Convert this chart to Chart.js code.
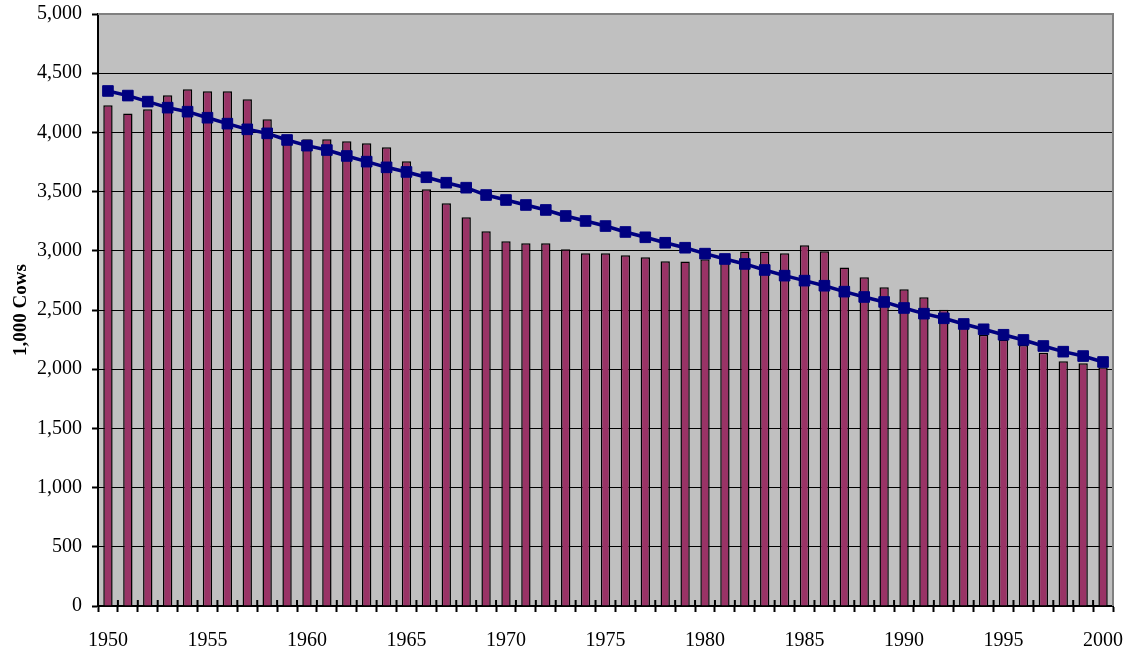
<!DOCTYPE html>
<html>
<head>
<meta charset="utf-8">
<script src="https://cdn.jsdelivr.net/npm/chart.js@4.4.1/dist/chart.umd.min.js"></script>
<style>
  html, body { margin: 0; padding: 0; background: #ffffff; }
  #wrap { width: 1131px; height: 654px; position: relative; }
</style>
</head>
<body>
<div id="wrap"><canvas id="c" width="1131" height="654"></canvas></div>
<script>
const years = [];
for (let y = 1950; y <= 2000; y++) years.push(String(y));

const cows = [
  4230, 4160, 4195, 4313, 4364, 4347, 4347, 4280, 4111, 3940,
  3942, 3942, 3925, 3908, 3874, 3756, 3519, 3401, 3283, 3165,
  3080, 3063, 3063, 3013, 2979, 2979, 2962, 2945, 2911, 2910,
  2928, 2940, 2995, 2995, 2979, 3046, 2996, 2860, 2776, 2692,
  2675, 2607, 2503, 2370, 2290, 2250, 2204, 2138, 2067, 2050,
  2016
];

const trend = [
  4350, 4311, 4260, 4209, 4175, 4124, 4074, 4026, 3992, 3936,
  3888, 3851, 3801, 3753, 3705, 3666, 3621, 3575, 3533, 3471,
  3429, 3387, 3345, 3294, 3252, 3209, 3159, 3114, 3068, 3026,
  2976, 2931, 2889, 2838, 2790, 2748, 2705, 2655, 2610, 2568,
  2517, 2469, 2430, 2382, 2337, 2291, 2247, 2196, 2148, 2111,
  2061
];

const yTitle = '1,000 Cows';

const plotBg = {
  id: 'plotBg',
  beforeDraw(chart) {
    const { ctx, chartArea: a } = chart;
    ctx.save();
    ctx.fillStyle = '#C0C0C0';
    ctx.fillRect(a.left, a.top, a.right - a.left, a.bottom - a.top);
    ctx.restore();
  },
  afterDatasetsDraw(chart) {
    const { ctx, chartArea: a } = chart;
    const xs = chart.scales.x;
    ctx.save();
    ctx.strokeStyle = '#808080';
    ctx.lineWidth = 2;
    ctx.beginPath();
    ctx.moveTo(a.left, a.top);
    ctx.lineTo(a.right, a.top);
    ctx.lineTo(a.right, a.bottom);
    ctx.stroke();
    // inner half of the crossing category ticks
    ctx.strokeStyle = '#000000';
    ctx.lineWidth = 2;
    ctx.beginPath();
    for (let i = 1; i < years.length; i++) {
      const px = (xs.getPixelForValue(i - 1) + xs.getPixelForValue(i)) / 2;
      ctx.moveTo(px, a.bottom);
      ctx.lineTo(px, a.bottom - 6);
    }
    ctx.stroke();
    ctx.restore();
  }
};

const serif = "'Liberation Serif', 'Times New Roman', serif";

new Chart(document.getElementById('c'), {
  type: 'bar',
  data: {
    labels: years,
    datasets: [
      {
        type: 'line',
        data: trend,
        borderColor: '#000080',
        backgroundColor: '#000080',
        borderWidth: 3.5,
        pointStyle: 'rect',
        pointRadius: 7.5,
        pointBorderWidth: 1,
        pointBackgroundColor: '#000080',
        pointBorderColor: '#000080',
        tension: 0,
        order: 0
      },
      {
        type: 'bar',
        data: cows,
        backgroundColor: '#993366',
        borderColor: '#000000',
        borderWidth: 1.5,
        categoryPercentage: 1.0,
        barPercentage: 0.47,
        order: 1
      }
    ]
  },
  options: {
    responsive: false,
    animation: false,
    devicePixelRatio: 1,
    layout: { padding: { left: 0, right: 18, top: 14, bottom: 0 } },
    plugins: {
      legend: { display: false },
      tooltip: { enabled: false }
    },
    scales: {
      x: {
        type: 'category',
        offset: true,
        grid: {
          offset: true,
          drawOnChartArea: false,
          drawTicks: true,
          tickLength: 6,
          tickColor: '#000000',
          tickWidth: 2
        },
        border: { display: true, color: '#000000', width: 2 },
        ticks: {
          autoSkip: false,
          maxRotation: 0,
          minRotation: 0,
          padding: 17,
          color: '#000000',
          font: { family: serif, size: 20 },
          callback: function (v, i) {
            const lab = this.getLabelForValue(v);
            return (Number(lab) % 5 === 0) ? lab : '';
          }
        },
        afterFit(scale) {
          scale.height = 48;
          scale.paddingLeft = 0;
          scale.paddingRight = 0;
        }
      },
      y: {
        min: 0,
        max: 5000,
        ticks: {
          stepSize: 500,
          padding: 10,
          color: '#000000',
          font: { family: serif, size: 20 },
          callback: (v) => Number(v).toLocaleString('en-US')
        },
        grid: {
          color: (ctx) => (ctx.tick && ctx.tick.value === 5000) ? '#808080' : '#000000',
          lineWidth: 1,
          tickLength: 6,
          tickColor: '#000000',
          tickWidth: 2
        },
        border: { display: true, color: '#000000', width: 2 },
        title: {
          display: true,
          text: yTitle,
          color: '#000000',
          font: { family: serif, size: 19, weight: 'bold' },
          padding: { top: 10, bottom: 0 }
        },
        afterFit(scale) {
          scale.width = 98;
          scale.paddingTop = 0;
          scale.paddingBottom = 0;
        }
      }
    }
  },
  plugins: [plotBg]
});
</script>
</body>
</html>
